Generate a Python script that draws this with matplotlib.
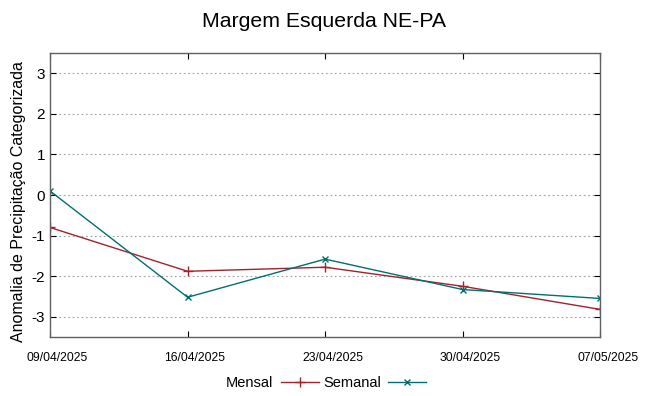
import matplotlib
matplotlib.use("Agg")
import matplotlib.pyplot as plt
from matplotlib.transforms import ScaledTranslation

plt.rcParams['font.family'] = ['Liberation Sans', 'DejaVu Sans']

datas = ["09/04/2025", "16/04/2025", "23/04/2025", "30/04/2025", "07/05/2025"]
mensal = [-0.80, -1.88, -1.78, -2.25, -2.82]
semanal = [0.10, -2.52, -1.58, -2.33, -2.55]
yticks = [-3, -2, -1, 0, 1, 2, 3]

fig = plt.figure(figsize=(6.48, 3.96), dpi=100)
ax = fig.add_axes([0.0772, 0.149, 0.849, 0.717])

x = list(range(len(datas)))
ax.plot(x, mensal, color="#a3222d", lw=1.0, marker="+", ms=7, mew=1.0, label="Mensal")
ax.plot(x, semanal, color="#00706e", lw=1.0, marker="x", ms=5, mew=1.0, label="Semanal")

ax.set_xlim(0, len(datas) - 1)
ax.set_ylim(-3.5, 3.5)
ax.set_xticks(x)
ax.set_xticklabels(datas, fontsize=8.7)
ax.set_yticks(yticks)
ax.set_yticklabels([str(v) for v in yticks], fontsize=11)
ax.tick_params(direction="in", length=4, top=True, right=True, width=0.8)
ax.tick_params(axis="x", pad=11)
# gnuplot puts the date labels a bit to the right of the tick
shift = ScaledTranslation(7.5 / 100, 0, fig.dpi_scale_trans)
for lab in ax.get_xticklabels():
    lab.set_transform(lab.get_transform() + shift)
ax.yaxis.grid(True, linestyle=(0, (1.5, 2.5)), color="#a0a0a0", lw=0.8)
for s in ax.spines.values():
    s.set_color("#606060")
    s.set_linewidth(1.0)

ax.set_ylabel("Anomalia de Precipitação Categorizada", fontsize=11.5)
ax.yaxis.set_label_coords(-0.044, 0.477)
fig.suptitle("Margem Esquerda NE-PA", fontsize=15.3, y=0.97)

fig.legend(loc="center", bbox_to_anchor=(0.503, 0.033), ncol=2, frameon=False,
           markerfirst=False, fontsize=10.5, handlelength=2.6, columnspacing=0.3,
           handletextpad=0.5)

fig.savefig("out.png", dpi=100)
